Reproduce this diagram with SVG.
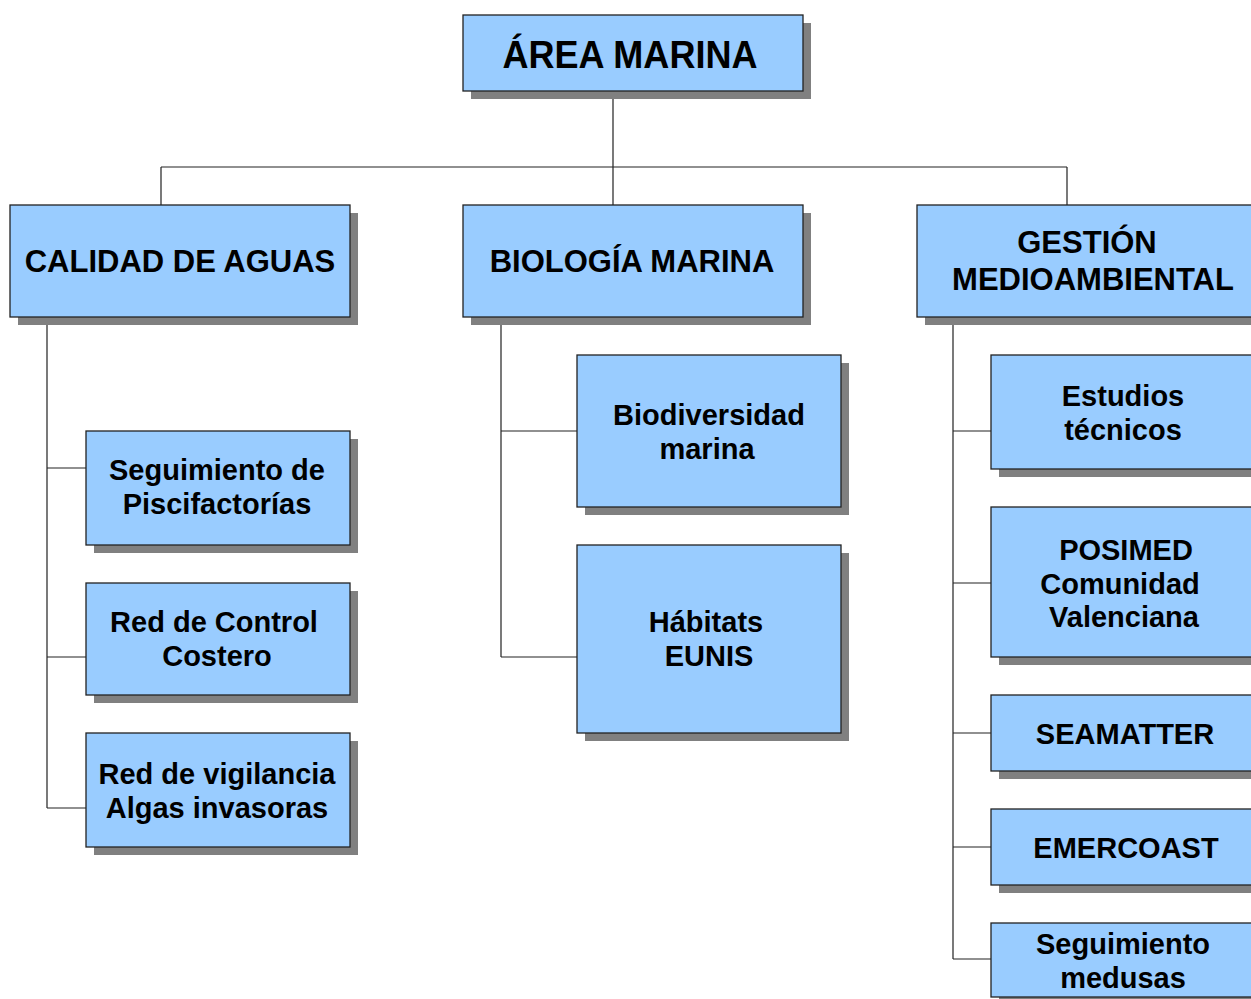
<svg xmlns="http://www.w3.org/2000/svg" width="1251" height="999" viewBox="0 0 1251 999">
<defs>
<style>
.sh{fill:#808080}
.bx{fill:#99ccff;stroke:#222;stroke-width:1.3}
.ln{stroke:#222;stroke-width:1.2;fill:none}
text{font-family:"Liberation Sans",Arial,sans-serif;font-weight:bold;fill:#000;text-anchor:middle}
.t0{font-size:39px}
.t1{font-size:31px}
.t2{font-size:29px}
</style>
</defs>
<rect width="1251" height="999" fill="#fff"/>
<g id="connectors">
<path class="ln" d="M613 91V167M161 167H1067M161 167V205M613 167V205M1067 167V205"/>
<path class="ln" d="M47 317V808M47 468H86M47 657H86M47 808H86"/>
<path class="ln" d="M501 317V657M501 431H577M501 657H577"/>
<path class="ln" d="M953 317V959M953 431H991M953 583H991M953 733H991M953 847H991M953 959H991"/>
</g>
<g id="n-area">
<rect class="sh" x="471" y="23" width="340" height="76"/>
<rect class="bx" x="463" y="15" width="340" height="76"/>
<text class="t0" x="630" y="68" textLength="255" lengthAdjust="spacingAndGlyphs">ÁREA MARINA</text>
</g>
<g id="n-calidad">
<rect class="sh" x="18" y="213" width="340" height="112"/>
<rect class="bx" x="10" y="205" width="340" height="112"/>
<text class="t1" x="180" y="272">CALIDAD DE AGUAS</text>
</g>
<g id="n-biologia">
<rect class="sh" x="471" y="213" width="340" height="112"/>
<rect class="bx" x="463" y="205" width="340" height="112"/>
<text class="t1" x="632" y="272">BIOLOGÍA MARINA</text>
</g>
<g id="n-gestion">
<rect class="sh" x="925" y="213" width="340" height="112"/>
<rect class="bx" x="917" y="205" width="340" height="112"/>
<text class="t1" x="1087" y="253">GESTIÓN</text>
<text class="t1" x="1093" y="290">MEDIOAMBIENTAL</text>
</g>
<g id="n-piscifactorias">
<rect class="sh" x="94" y="439" width="264" height="114"/>
<rect class="bx" x="86" y="431" width="264" height="114"/>
<text class="t2" x="217" y="480">Seguimiento de</text>
<text class="t2" x="217" y="514">Piscifactorías</text>
</g>
<g id="n-costero">
<rect class="sh" x="94" y="591" width="264" height="112"/>
<rect class="bx" x="86" y="583" width="264" height="112"/>
<text class="t2" x="214" y="632">Red de Control</text>
<text class="t2" x="217" y="666">Costero</text>
</g>
<g id="n-algas">
<rect class="sh" x="94" y="741" width="264" height="114"/>
<rect class="bx" x="86" y="733" width="264" height="114"/>
<text class="t2" x="217" y="784">Red de vigilancia</text>
<text class="t2" x="217" y="818">Algas invasoras</text>
</g>
<g id="n-biodiversidad">
<rect class="sh" x="585" y="363" width="264" height="152"/>
<rect class="bx" x="577" y="355" width="264" height="152"/>
<text class="t2" x="709" y="425">Biodiversidad</text>
<text class="t2" x="707" y="459">marina</text>
</g>
<g id="n-habitats">
<rect class="sh" x="585" y="553" width="264" height="188"/>
<rect class="bx" x="577" y="545" width="264" height="188"/>
<text class="t2" x="706" y="632">Hábitats</text>
<text class="t2" x="709" y="666">EUNIS</text>
</g>
<g id="n-estudios">
<rect class="sh" x="999" y="363" width="270" height="114"/>
<rect class="bx" x="991" y="355" width="270" height="114"/>
<text class="t2" x="1123" y="406">Estudios</text>
<text class="t2" x="1123" y="440">técnicos</text>
</g>
<g id="n-posimed">
<rect class="sh" x="999" y="515" width="270" height="150"/>
<rect class="bx" x="991" y="507" width="270" height="150"/>
<text class="t2" x="1126" y="560">POSIMED</text>
<text class="t2" x="1120" y="594">Comunidad</text>
<text class="t2" x="1124" y="627">Valenciana</text>
</g>
<g id="n-seamatter">
<rect class="sh" x="999" y="703" width="270" height="76"/>
<rect class="bx" x="991" y="695" width="270" height="76"/>
<text class="t2" x="1125" y="744">SEAMATTER</text>
</g>
<g id="n-emercoast">
<rect class="sh" x="999" y="817" width="270" height="76"/>
<rect class="bx" x="991" y="809" width="270" height="76"/>
<text class="t2" x="1126" y="858">EMERCOAST</text>
</g>
<g id="n-medusas">
<rect class="sh" x="999" y="931" width="270" height="76"/>
<rect class="bx" x="991" y="923" width="270" height="74"/>
<text class="t2" x="1123" y="954">Seguimiento</text>
<text class="t2" x="1123" y="988">medusas</text>
</g>
</svg>
